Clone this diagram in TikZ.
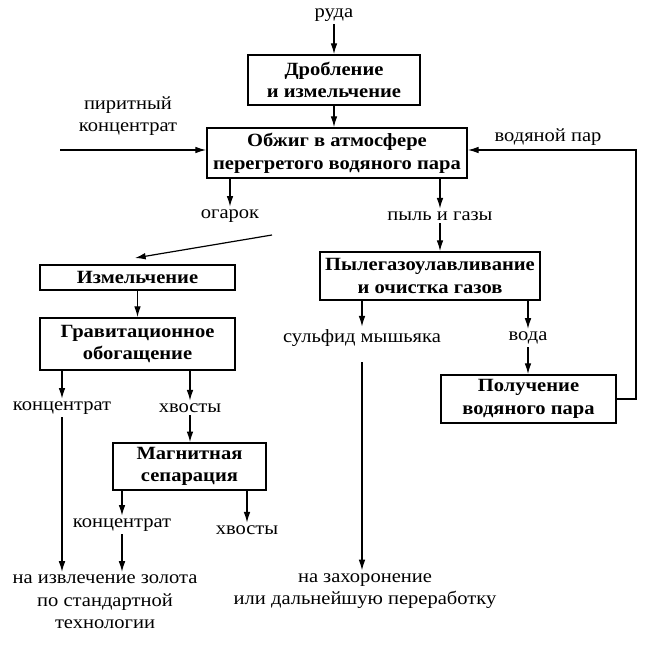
\documentclass[tikz,border=0pt]{standalone}
\usepackage{fontspec}
\setmainfont[FakeStretch=1.1]{Liberation Serif}
\usetikzlibrary{arrows.meta}

\begin{document}
\begin{tikzpicture}[x=0.75pt,y=-0.75pt,
    box/.style={draw,line width=1.5pt,inner sep=0pt,align=center,font=\fontsize{14}{17}\selectfont\bfseries},
    lbl/.style={align=center,inner sep=2pt,font=\fontsize{14}{17}\selectfont},
    arr/.style={-{Latex[length=8pt,width=5pt]},line width=0.9pt}]
    \useasboundingbox (0,0) rectangle (668,646);
    % boxes
    \node[box,minimum width=129pt,minimum height=37.5pt] (drob) at (334,80) {Дробление\\и измельчение};
    \node[box,minimum width=195pt,minimum height=37.5pt] (obzhig) at (337,153) {Обжиг в атмосфере\\перегретого водяного пара};
    \node[box,minimum width=146pt,minimum height=19pt] (izmel) at (137.5,277.5) {Измельчение};
    \node[box,minimum width=146pt,minimum height=39pt] (grav) at (137.5,344) {Гравитационное\\обогащение};
    \node[box,minimum width=115pt,minimum height=35pt] (magn) at (189.5,466.5) {Магнитная\\сепарация};
    \node[box,minimum width=165pt,minimum height=36pt] (pylegaz) at (430,276) {Пылегазоулавливание\\и очистка газов};
    \node[box,minimum width=131pt,minimum height=36pt] (poluch) at (528.5,399) {Получение\\водяного пара};
    % labels
    \node[lbl] (ruda) at (334,15) {руда};
    \node[lbl] (pirit) at (128,116) {пиритный\\концентрат};
    \node[lbl] (par) at (548,137) {водяной пар};
    \node[lbl] (ogarok) at (230,216) {огарок};
    \node[lbl] (pyl) at (440,216) {пыль и газы};
    \node[lbl] (sulf) at (362,338) {сульфид мышьяка};
    \node[lbl] (voda) at (528,338) {вода};
    \node[lbl] (konc1) at (62,408) {концентрат};
    \node[lbl] (hv1) at (190,408) {хвосты};
    \node[lbl] (konc2) at (122,525) {концентрат};
    \node[lbl] (hv2) at (247,530) {хвосты};
    \node[lbl] (izvl) at (105,602) {на извлечение золота\\по стандартной\\технологии};
    \node[lbl] (zahor) at (365,591) {на захоронение\\или дальнейшую переработку};
    \coordinate (pin) at (60,150);
    \coordinate (stm) at (636,150);
    \coordinate (og1) at (272,235);
    \coordinate (og2) at (135,258);
    \coordinate (s1) at (362,362);
    % arrows
    \draw[arr] (ruda) -- (ruda |- drob.north);
    \draw[arr] (drob.south) -- (drob.south |- obzhig.north);
    \draw[arr] (pin) -- (pin -| obzhig.west);
    \draw[arr] (poluch.east) -| (stm) -- (stm -| obzhig.east);
    \draw[arr] (ogarok |- obzhig.south) -- (ogarok.north);
    \draw[arr] (pyl |- obzhig.south) -- (pyl.north);
    \draw[arr] (og1) -- (og2);
    \draw[arr] (pyl.south) -- (pyl |- pylegaz.north);
    \draw[arr] (sulf |- pylegaz.south) -- (sulf.north);
    \draw[arr] (voda |- pylegaz.south) -- (voda.north);
    \draw[arr] (voda.south) -- (voda |- poluch.north);
    \draw[arr] (s1) -- (s1 |- zahor.north);
    \draw[arr] (izmel) -- (grav);
    \draw[arr] (konc1 |- grav.south) -- (konc1.north);
    \draw[arr] (hv1 |- grav.south) -- (hv1.north);
    \draw[arr] (konc1.south) -- (konc1 |- izvl.north);
    \draw[arr] (hv1.south) -- (hv1 |- magn.north);
    \draw[arr] (konc2 |- magn.south) -- (konc2.north);
    \draw[arr] (hv2 |- magn.south) -- (hv2.north);
    \draw[arr] (konc2.south) -- (konc2 |- izvl.north);
\end{tikzpicture}
\end{document}
